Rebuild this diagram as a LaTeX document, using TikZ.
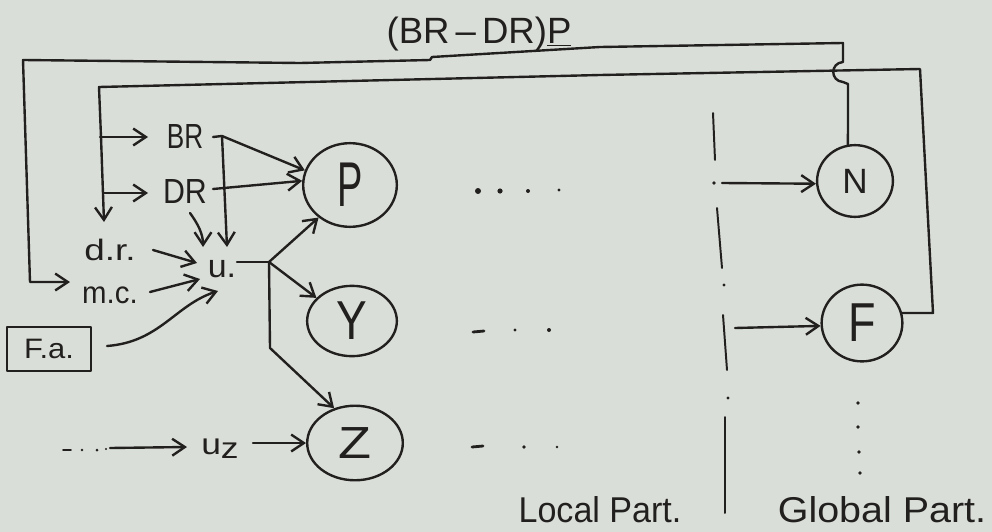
\documentclass[tikz,border=0pt]{standalone}
\usepackage{fontspec}
\setmainfont{Liberation Sans}
\usepackage{graphicx}
\usetikzlibrary{arrows.meta,shapes.geometric,calc}
\definecolor{paper}{RGB}{218,222,217}
\definecolor{ink}{RGB}{34,32,30}
% size (pt), horizontal stretch, text
\newcommand\hw[3]{\scalebox{#2}[1]{\fontsize{#1}{#1}\selectfont #3}}
\begin{document}
\begin{tikzpicture}[x=0.025cm, y=-0.025cm,
  wire/.style={draw=ink, line width=1.7pt, line cap=round, line join=round},
  arr/.style={wire, -{Straight Barb[length=9pt,width=12pt]}},
  lbl/.style={inner sep=1pt, text=ink},
  bub/.style={ellipse, draw=ink, line width=1.7pt, inner sep=0pt, text=ink},
  dotmark/.style={fill=ink}]
\fill[paper] (0,0) rectangle (992,532);
\useasboundingbox (0,0) rectangle (992,532);

% ---- title over the feedback loop
\node[lbl] (title) at (479,34) {\hw{26}{1.0}{(BR\,\textendash\,DR)\underline{P}}};

% ---- state bubbles
\node[bub, minimum width=66.6pt, minimum height=59.5pt] (P) at (350,185) {\hw{45}{0.6}{P}};
\node[bub, minimum width=63.8pt, minimum height=50pt] (Y) at (352,321) {\hw{39}{0.84}{Y}};
\node[bub, minimum width=68pt, minimum height=53pt] (Z) at (355,443) {\hw{32}{1.2}{Z}};
\node[bub, minimum width=53.9pt, minimum height=51pt] (N) at (855,181) {\hw{25}{1.0}{N}};
\node[bub, minimum width=57.4pt, minimum height=54.6pt] (F) at (862,323) {\hw{39}{0.82}{F}};

% ---- left-hand quantities
\node[lbl] (BR) at (185,137) {\hw{24.8}{0.75}{BR}};
\node[lbl] (DR) at (185,192) {\hw{24.8}{0.87}{DR}};
\node[lbl] (dr) at (110,250) {\hw{21}{1.25}{d.r.}};
\node[lbl] (mc) at (110,295) {\hw{22}{0.95}{m.c.}};
\node[lbl] (u)  at (222,269) {\hw{23}{1.05}{u.}};
\node[wire, lbl, draw, line width=1.4pt, minimum width=59.5pt, minimum height=31.9pt] (Fa) at (49,349) {\hw{20}{1.1}{F.a.}};
\node[lbl] (uz) at (220,449) {\hw{21}{1.2}{u\raisebox{-3pt}{z}}};

% ---- part labels
\node[lbl] (lp) at (600,510) {\hw{25.5}{0.95}{Local Part.}};
\node[lbl] (gp) at (882,510) {\hw{25.5}{1.1}{Global Part.}};

% ---- junctions and free ends
\coordinate (mcin) at (70,282);
\coordinate (drin) at (104,222);
\coordinate (brin) at (148,137);
\coordinate (dsin) at (148,193);
\coordinate (brj)  at (222,136);
\coordinate (uin1) at (227,247);
\coordinate (uin2) at (203,247);
\coordinate (uin3) at (197,263);
\coordinate (uin4) at (200,279);
\coordinate (uin5) at (218,291);
\coordinate (uout) at (237,262);
\coordinate (ubr)  at (269,262);
\coordinate (uzin) at (187,447);
\coordinate (nin)  at (722,183);
\coordinate (fin)  at (735,328);

% ---- outer loop: N back to m.c., hopping over the inner loop
\draw[arr] (N.101) -- (848,84) -- (843,82)
  .. controls (830,81) and (830,63) .. (843,62)
  -- (843,43) -- (600,47) -- (432,57) -- (430,60) -- (300,63) -- (23,60)
  -- (30,282) -- (mcin);

% ---- inner loop: F back to BR, DR and d.r.
\draw[arr] (F.14) -- (933,313) -- (920,69) -- (600,75) -- (99,87)
  -- (101,137) -- (drin);
\draw[arr] (100,137) -- (brin);
\draw[arr] (103,193) -- (dsin);

% ---- BR and DR into P and u
\draw[wire] (213,137) -- (brj);
\draw[arr] (brj) -- (P.162);
\draw[arr] (brj) -- (uin1);
\draw[arr] (213,189) -- (P.175);
\draw[arr] (190,213) .. controls (198,224) and (203,234) .. (uin2);

% ---- inputs of u
\draw[arr] (153,250) -- (uin3);
\draw[arr] (150,292) -- (uin4);
\draw[arr] (107,346) .. controls (160,342) and (175,305) .. (uin5);

% ---- u fans out to P, Y, Z
\draw[wire] (uout) -- (ubr);
\draw[arr] (ubr) -- (P.226);
\draw[arr] (ubr) -- (Y.147);
\draw[arr] (ubr) -- (270,348) -- (Z.121);

% ---- bottom row
\draw[arr] (110,448) -- (uzin);
\draw[arr] (253,443) -- (Z.180);

% ---- global part inputs
\draw[arr] (nin) -- (N.184);
\draw[arr] (fin) -- (F.184);

% ---- dividing line between the parts
\draw[wire, line width=1.4pt] (713,113) -- (715,160);
\draw[wire, line width=1.4pt] (717,208) -- (722,268);
\draw[wire, line width=1.4pt] (723,315) -- (727,370);
\draw[wire, line width=1.4pt] (725,417) -- (725,513);
\fill[dotmark] (714,183) circle[radius=1.8];
\fill[dotmark] (724,285) circle[radius=1.6];
\fill[dotmark] (728,398) circle[radius=1.6];

% ---- ellipsis marks
\fill[dotmark] (478,191) circle[radius=3];
\fill[dotmark] (500,191) circle[radius=2.6];
\fill[dotmark] (528,191) circle[radius=2];
\fill[dotmark] (559,190) circle[radius=1.6];
\draw[wire, line width=2pt] (473,332) -- (484,331);
\fill[dotmark] (515,330) circle[radius=1.7];
\fill[dotmark] (549,330) circle[radius=2];
\draw[wire, line width=2pt] (472,447) -- (483,446);
\fill[dotmark] (524,447) circle[radius=1.8];
\fill[dotmark] (557,447) circle[radius=1.4];
\draw[wire, line width=1.4pt] (63,450) -- (71,450);
\fill[dotmark] (82,450) circle[radius=1.3];
\fill[dotmark] (97,450) circle[radius=1.5];
\fill[dotmark] (106,449) circle[radius=1.2];
\fill[dotmark] (858,403) circle[radius=1.8];
\fill[dotmark] (858,427) circle[radius=1.8];
\fill[dotmark] (859,452) circle[radius=1.8];
\fill[dotmark] (860,473) circle[radius=1.8];
\end{tikzpicture}
\end{document}
